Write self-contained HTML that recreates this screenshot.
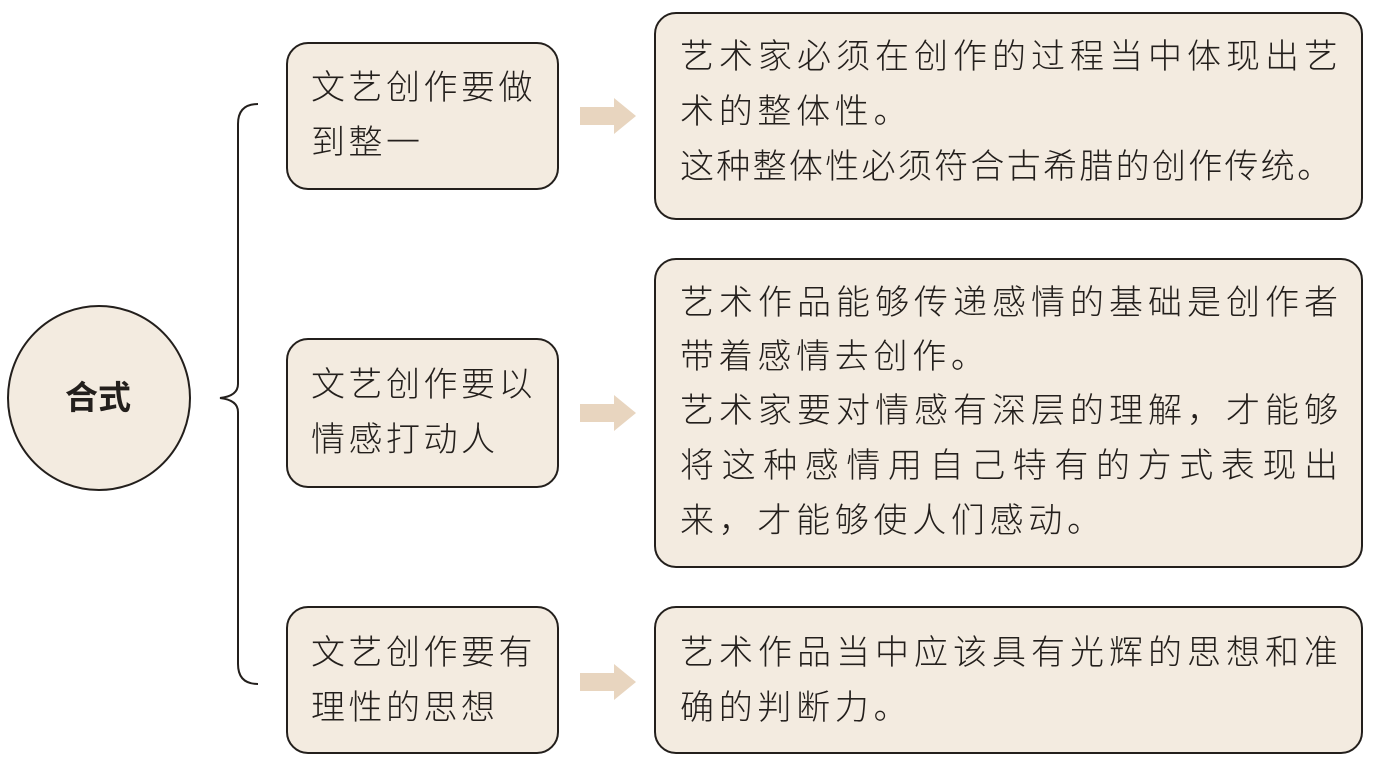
<!DOCTYPE html>
<html><head><meta charset="utf-8"><style>
body{margin:0;width:1373px;height:764px;background:#fff;position:relative;overflow:hidden;font-family:"Liberation Sans","Noto Sans CJK SC",sans-serif;color:#231f1c}
.b{position:absolute;background:#f3ebe0;border:2px solid #231f1c;border-radius:22px;box-sizing:border-box}
.l{position:absolute;font-size:34px;font-weight:300;line-height:40px;white-space:nowrap}
.j{text-align:justify;text-align-last:justify;width:658px}
</style></head><body>
<svg width="1373" height="764" style="position:absolute;left:0;top:0">
<ellipse cx="99" cy="398" rx="91" ry="92" fill="#f3ebe0" stroke="#231f1c" stroke-width="2"/>
<path d="M258 104 Q238 104 238 124 L238 384 Q238 396 220 398 Q238 400 238 412 L238 664 Q238 684 258 684" fill="none" stroke="#231f1c" stroke-width="2"/>
<g fill="#e8d5bf">
<path d="M580 107 H614 V98 L636 116 L614 134 V125 H580Z"/>
<path d="M580 404 H614 V395 L636 413 L614 431 V422 H580Z"/>
<path d="M580 673 H614 V664 L636 682 L614 700 V691 H580Z"/>
</g>
</svg>
<div class="l" style="left:65px;top:378px;font-weight:700;font-size:33px">合式</div>
<div class="b" style="left:286px;top:42px;width:273px;height:148px"></div>
<div class="b" style="left:286px;top:338px;width:273px;height:150px"></div>
<div class="b" style="left:286px;top:606px;width:273px;height:148px"></div>
<div class="b" style="left:654px;top:12px;width:709px;height:208px"></div>
<div class="b" style="left:654px;top:258px;width:709px;height:310px"></div>
<div class="b" style="left:654px;top:606px;width:709px;height:148px"></div>
<div class="l" style="left:311px;top:68px;letter-spacing:3.5px">文艺创作要做</div>
<div class="l" style="left:311px;top:123px;letter-spacing:3.5px">到整一</div>
<div class="l" style="left:311px;top:365px;letter-spacing:3.5px">文艺创作要以</div>
<div class="l" style="left:311px;top:420px;letter-spacing:3.5px">情感打动人</div>
<div class="l" style="left:311px;top:633px;letter-spacing:3.5px">文艺创作要有</div>
<div class="l" style="left:311px;top:688px;letter-spacing:3.5px">理性的思想</div>
<div class="l j" style="left:680px;top:37px">艺术家必须在创作的过程当中体现出艺</div>
<div class="l" style="left:680px;top:92px;letter-spacing:4.7px">术的整体性。</div>
<div class="l" style="left:680px;top:147px;letter-spacing:2.3px">这种整体性必须符合古希腊的创作传统。</div>
<div class="l j" style="left:680px;top:283px">艺术作品能够传递感情的基础是创作者</div>
<div class="l" style="left:680px;top:337px;letter-spacing:4.7px">带着感情去创作。</div>
<div class="l j" style="left:680px;top:391px">艺术家要对情感有深层的理解，才能够</div>
<div class="l j" style="left:680px;top:446px">将这种感情用自己特有的方式表现出</div>
<div class="l" style="left:680px;top:501px;letter-spacing:4.7px">来，才能够使人们感动。</div>
<div class="l j" style="left:680px;top:633px">艺术作品当中应该具有光辉的思想和准</div>
<div class="l" style="left:680px;top:688px;letter-spacing:4.7px">确的判断力。</div>
</body></html>
